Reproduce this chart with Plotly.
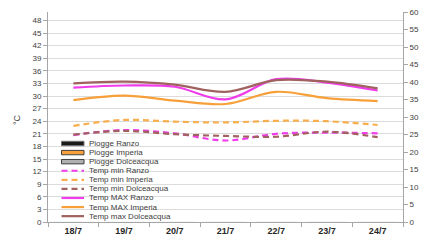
import plotly.graph_objects as go

days = ["18/7", "19/7", "20/7", "21/7", "22/7", "23/7", "24/7"]

rain_ranzo = [0, 0, 0, 0, 0, 0, 0]
rain_imperia = [0, 0, 0, 0, 0, 0, 0]
rain_dolceacqua = [0, 0, 0, 0, 0, 0, 0]

tmin_ranzo = [20.7, 21.9, 21.1, 19.4, 21.0, 21.3, 21.1]
tmin_imperia = [22.9, 24.3, 23.9, 23.7, 24.1, 24.0, 23.1]
tmin_dolceacqua = [20.8, 21.7, 20.9, 20.5, 20.3, 21.5, 20.2]
tmax_ranzo = [32.0, 32.5, 32.2, 29.2, 34.0, 33.2, 31.3]
tmax_imperia = [29.0, 30.1, 28.9, 28.1, 31.0, 29.5, 28.8]
tmax_dolceacqua = [33.0, 33.4, 32.7, 31.0, 33.8, 33.4, 31.8]

left_ticks = list(range(0, 49, 3))
right_ticks = list(range(0, 61, 5))

MAG = "#F03CEB"
ORA = "#F7A03A"
ORA_L = "#F9AE4E"
BRO = "#A0625E"
FONT = "Liberation Sans"
TXT = "#404040"

fig = go.Figure()

# rain (bars on secondary axis)
for name, vals, col in [("Piogge Ranzo", rain_ranzo, "#1A1A1A"),
                        ("Piogge Imperia", rain_imperia, ORA),
                        ("Piogge Dolceacqua", rain_dolceacqua, "#9A9A9A")]:
    fig.add_trace(go.Bar(x=days, y=vals, name=name, yaxis="y2",
                         marker_color=col, showlegend=False))

series = [
    ("Temp min Ranzo", tmin_ranzo, MAG, "dash"),
    ("Temp min Imperia", tmin_imperia, ORA_L, "dash"),
    ("Temp min Dolceacqua", tmin_dolceacqua, BRO, "dash"),
    ("Temp MAX Ranzo", tmax_ranzo, MAG, "solid"),
    ("Temp MAX Imperia", tmax_imperia, ORA, "solid"),
    ("Temp max Dolceacqua", tmax_dolceacqua, BRO, "solid"),
]
for name, vals, col, dash in series:
    fig.add_trace(go.Scatter(x=days, y=vals, name=name, mode="lines",
                             line=dict(color=col, width=2.2, dash="6px,4px" if dash == "dash" else "solid",
                                       shape="spline", smoothing=1.0),
                             showlegend=False))

# plot area in pixels
L, R, T, B = 48, 403, 12, 222
W, H = 431, 240

def px(xp):
    return (xp - L) / (R - L)

def py(yp):
    return (B - yp) / (B - T)

legend_rows = [
    ("Piogge Ranzo", "rect", "#1A1A1A", "#707070"),
    ("Piogge Imperia", "rect", ORA, "#404040"),
    ("Piogge Dolceacqua", "rect", "#B0B0B0", "#404040"),
    ("Temp min Ranzo", "dash", MAG, None),
    ("Temp min Imperia", "dash", ORA_L, None),
    ("Temp min Dolceacqua", "dash", BRO, None),
    ("Temp MAX Ranzo", "solid", MAG, None),
    ("Temp MAX Imperia", "solid", ORA, None),
    ("Temp max Dolceacqua", "solid", BRO, None),
]
shapes = []
annotations = []
y0 = 143.5
step = 9.08
x_s0, x_s1, x_t = 61.5, 84.0, 86.5
for i, (label, kind, col, edge) in enumerate(legend_rows):
    yy = y0 + i * step
    if kind == "rect":
        shapes.append(dict(type="rect", xref="paper", yref="paper",
                           x0=px(x_s0), x1=px(x_s1), y0=py(yy + 2.2), y1=py(yy - 2.2),
                           fillcolor=col, line=dict(color=edge, width=1)))
    else:
        shapes.append(dict(type="line", xref="paper", yref="paper",
                           x0=px(x_s0), x1=px(x_s1), y0=py(yy), y1=py(yy),
                           line=dict(color=col, width=2.2, dash="6px,4px" if kind == "dash" else "solid")))
    annotations.append(dict(text=label, xref="paper", yref="paper", x=px(x_t), y=py(yy),
                            xanchor="left", yanchor="middle", showarrow=False,
                            font=dict(family=FONT, size=8, color=TXT)))

# y-axis title
annotations.append(dict(text="°C", xref="paper", yref="paper", x=px(17), y=py(120),
                        xanchor="center", yanchor="middle", showarrow=False, textangle=-90,
                        font=dict(family=FONT, size=9, color=TXT)))

fig.update_layout(
    width=W, height=H,
    margin=dict(l=L, r=W - R, t=T, b=H - B, pad=0),
    paper_bgcolor="white", plot_bgcolor="white",
    showlegend=False,
    font=dict(family=FONT, size=8, color=TXT),
    xaxis=dict(type="category", range=[-0.5, 6.5], showgrid=False, automargin=False,
               showline=True, linecolor="#A6A6A6", linewidth=1,
               ticks="outside", ticklen=4, tickcolor="#A6A6A6", tickson="boundaries",
               tickfont=dict(family=FONT, size=9, color="#262626", weight="bold")),
    yaxis=dict(range=[0, 50], tickvals=left_ticks, showgrid=True, gridcolor="#DCDCDC", gridwidth=1,
               showline=True, linecolor="#A6A6A6", linewidth=1, zeroline=False, automargin=False,
               ticks="outside", ticklen=4, tickcolor="#A6A6A6",
               tickfont=dict(family=FONT, size=8, color=TXT)),
    yaxis2=dict(range=[0, 60], tickvals=right_ticks, overlaying="y", side="right", automargin=False,
                showgrid=False, showline=True, linecolor="#A6A6A6", linewidth=1, zeroline=False,
                ticks="outside", ticklen=4, tickcolor="#A6A6A6",
                tickfont=dict(family=FONT, size=8, color=TXT)),
    shapes=shapes,
    annotations=annotations,
)

fig.write_html("out.html", config={"displayModeBar": False},
               post_script="document.body.style.margin='0';document.body.style.overflow='hidden';")
